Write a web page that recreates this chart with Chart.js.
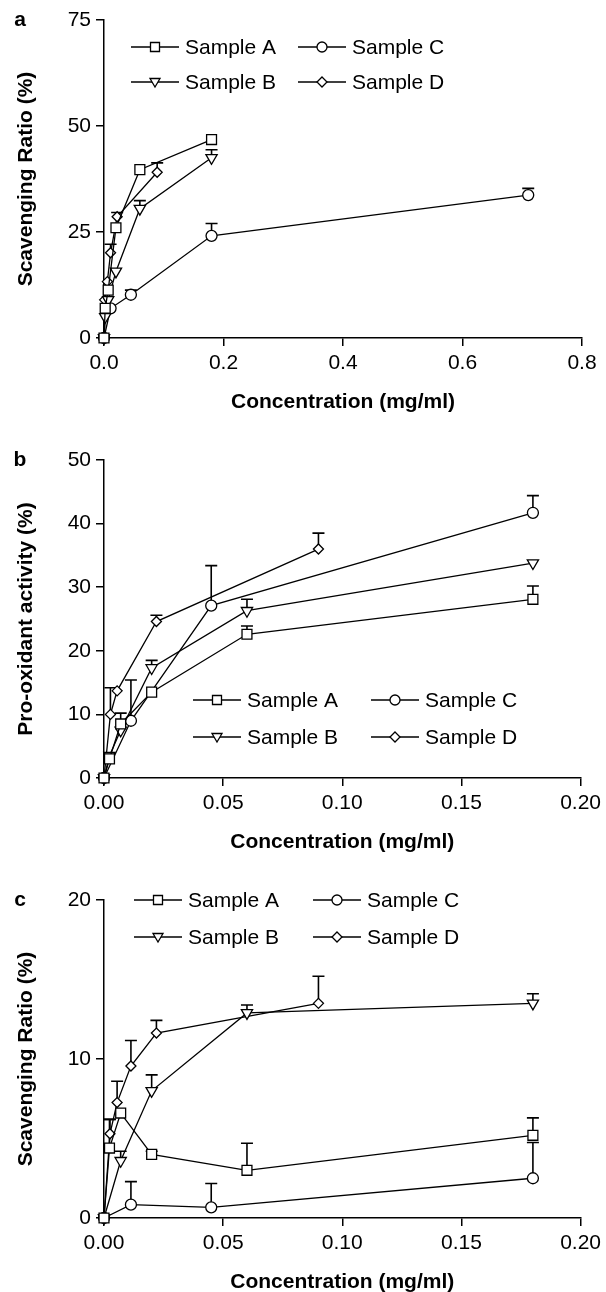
<!DOCTYPE html>
<html lang="en">
<head>
<meta charset="UTF-8">
<title>Scavenging and pro-oxidant activity</title>
<style>
  html, body { margin: 0; padding: 0; background: #fff; overflow: hidden; }
  .panel { position: absolute; left: 0; width: 606px; height: 440px; }
</style>
</head>
<body>
<div class="panel" style="top:0px"><canvas id="ca"></canvas></div>
<div class="panel" style="top:440px"><canvas id="cb"></canvas></div>
<div class="panel" style="top:880px"><canvas id="cc"></canvas></div>

<script src="https://cdn.jsdelivr.net/npm/chart.js"></script>
<script>
// ---- data (concentration mg/ml, value %, upper error) ----
const sampleNames = ['Sample A', 'Sample B', 'Sample C', 'Sample D'];

// panel a: scavenging ratio
const aConcA = [0, 0.002, 0.007, 0.02, 0.06, 0.18];
const aValA  = [0, 7.0, 11.3, 26.0, 39.7, 46.8];
const aErrA  = [0, 0, 0, 0, 0, 0];
const aConcB = [0, 0.002, 0.007, 0.02, 0.06, 0.18];
const aValB  = [0, 5.0, 9.0, 15.7, 30.5, 42.5];
const aErrB  = [0, 0, 0, 0, 1.9, 1.9];
const aConcC = [0, 0.011, 0.045, 0.18, 0.71];
const aValC  = [0, 7.0, 10.2, 24.1, 33.7];
const aErrC  = [0, 0, 1.1, 2.9, 1.6];
const aConcD = [0, 0.001, 0.0056, 0.011, 0.022, 0.089];
const aValD  = [0, 9.0, 13.3, 20.1, 28.6, 39.1];
const aErrD  = [0, 0, 0, 2.0, 1.0, 2.2];

// panel b: pro-oxidant activity
const bConcA = [0, 0.0023, 0.007, 0.02, 0.06, 0.18];
const bValA  = [0, 3.0, 8.5, 13.5, 22.6, 28.1];
const bErrA  = [0, 0, 1.7, 0, 1.3, 2.1];
const bConcB = [0, 0.0023, 0.007, 0.02, 0.06, 0.18];
const bValB  = [0, 3.5, 7.5, 17.3, 26.3, 33.8];
const bErrB  = [0, 0, 0, 1.2, 1.8, 0];
const bConcC = [0, 0.0113, 0.045, 0.18];
const bValC  = [0, 9.0, 27.1, 41.7];
const bErrC  = [0, 6.4, 6.3, 2.7];
const bConcD = [0, 0.0027, 0.0055, 0.022, 0.09];
const bValD  = [0, 10.0, 13.7, 24.6, 36.0];
const bErrD  = [0, 4.2, 0, 1.0, 2.5];

// panel c: scavenging ratio
const cConcA = [0, 0.0023, 0.007, 0.02, 0.06, 0.18];
const cValA  = [0, 4.4, 6.6, 4.0, 3.0, 5.2];
const cErrA  = [0, 1.8, 0, 0.2, 1.7, 1.1];
const cConcB = [0, 0.007, 0.02, 0.06, 0.18];
const cValB  = [0, 3.6, 8.0, 12.9, 13.5];
const cErrB  = [0, 0.6, 1.0, 0.5, 0.6];
const cConcC = [0, 0.0113, 0.045, 0.18];
const cValC  = [0, 0.84, 0.67, 2.5];
const cErrC  = [0, 1.45, 1.5, 2.25];
const cConcD = [0, 0.0025, 0.0055, 0.0113, 0.022, 0.09];
const cValD  = [0, 5.3, 7.26, 9.56, 11.63, 13.5];
const cErrD  = [0, 0.9, 1.34, 1.6, 0.8, 1.7];

// axis ticks
const xTicksA = [0, 0.2, 0.4, 0.6, 0.8];
const xTicksBC = [0, 0.05, 0.10, 0.15, 0.20];
const yTicksA = [0, 25, 50, 75];
const yTicksB = [0, 10, 20, 30, 40, 50];
const yTicksC = [0, 10, 20];

const FONT = '"Liberation Sans", Arial, Helvetica, sans-serif';
Chart.defaults.font.family = FONT;
Chart.defaults.font.size = 21;
Chart.defaults.color = '#000';

// marker look per sample
const markers = [
  { pointStyle: 'rect', radius: 7, rotation: 0 },
  { pointStyle: 'triangle', radius: 6.5, rotation: 180 },
  { pointStyle: 'circle', radius: 5.5, rotation: 0 },
  { pointStyle: 'rectRot', radius: 5, rotation: 0 }
];

function pts(xs, ys) {
  return xs.map((x, i) => ({ x: x, y: ys[i] }));
}

// error bars (upper only, with cap) using the chart's scales
const errorBars = {
  id: 'errorBars',
  beforeDatasetsDraw(chart) {
    const ctx = chart.ctx, ys = chart.scales.y;
    ctx.save();
    ctx.strokeStyle = '#000';
    ctx.lineWidth = 1.6;
    chart.data.datasets.forEach((ds, i) => {
      const meta = chart.getDatasetMeta(i);
      ds.err.forEach((e, j) => {
        if (!e) return;
        const p = meta.data[j];
        const top = ys.getPixelForValue(ds.data[j].y + e);
        ctx.beginPath();
        ctx.moveTo(p.x, p.y);
        ctx.lineTo(p.x, top);
        ctx.moveTo(p.x - 6, top);
        ctx.lineTo(p.x + 6, top);
        ctx.stroke();
      });
    });
    ctx.restore();
  }
};

function legendMarker(ctx, k, x, y) {
  ctx.beginPath();
  if (k === 0) {
    ctx.rect(x - 4.5, y - 4.5, 9, 9);
  } else if (k === 1) {
    ctx.moveTo(x - 5, y - 3.5); ctx.lineTo(x + 5, y - 3.5); ctx.lineTo(x, y + 5); ctx.closePath();
  } else if (k === 2) {
    ctx.arc(x, y, 5, 0, Math.PI * 2);
  } else {
    ctx.moveTo(x, y - 5); ctx.lineTo(x + 5, y); ctx.lineTo(x, y + 5); ctx.lineTo(x - 5, y); ctx.closePath();
  }
  ctx.fillStyle = '#fff';
  ctx.fill();
  ctx.stroke();
}

// two-column legend + panel letter
const panelDeco = {
  id: 'panelDeco',
  afterDraw(chart, args, opts) {
    const ctx = chart.ctx;
    ctx.save();
    ctx.fillStyle = '#000';
    ctx.font = 'bold 21px ' + FONT;
    ctx.textAlign = 'center';
    ctx.textBaseline = 'middle';
    ctx.fillText(opts.letter, 20, 20);

    ctx.font = '21px ' + FONT;
    ctx.textAlign = 'left';
    ctx.strokeStyle = '#000';
    ctx.lineWidth = 1.3;
    chart.data.datasets.forEach((ds, i) => {
      const x0 = opts.cols[Math.floor(i / 2)];
      const y0 = opts.rows[i % 2];
      ctx.beginPath();
      ctx.moveTo(x0, y0);
      ctx.lineTo(x0 + 48, y0);
      ctx.stroke();
      legendMarker(ctx, i, x0 + 24, y0);
      ctx.fillStyle = '#000';
      ctx.fillText(ds.label, x0 + 54, y0 + 1);
    });
    ctx.restore();
  }
};

function makePanel(id, letter, yTitle, series, xTicks, yTicks, xDec, legendCols, legendRows) {
  const datasets = series.map((s, i) => ({
    label: sampleNames[i],
    data: pts(s[0], s[1]),
    err: s[2],
    showLine: true,
    borderColor: '#000',
    borderWidth: 1.3,
    backgroundColor: '#fff',
    pointBackgroundColor: '#fff',
    pointBorderColor: '#000',
    pointBorderWidth: 1.3,
    pointStyle: markers[i].pointStyle,
    pointRadius: markers[i].radius,
    pointRotation: markers[i].rotation,
    tension: 0,
    clip: false
  }));

  const axisCommon = {
    grid: { display: true, drawOnChartArea: false, drawTicks: true, tickLength: 8, color: '#000', lineWidth: 1.5 },
    border: { display: true, color: '#000', width: 1.5 }
  };

  new Chart(document.getElementById(id), {
    type: 'scatter',
    data: { datasets: datasets },
    options: {
      responsive: true,
      maintainAspectRatio: false,
      animation: false,
      layout: { padding: { top: 20, right: 24, left: 0, bottom: 0 } },
      plugins: {
        legend: { display: false },
        tooltip: { enabled: false },
        panelDeco: { letter: letter, cols: legendCols, rows: legendRows }
      },
      scales: {
        x: Object.assign({}, axisCommon, {
          type: 'linear',
          min: xTicks[0],
          max: xTicks[xTicks.length - 1],
          afterBuildTicks: s => { s.ticks = xTicks.map(v => ({ value: v })); },
          afterFit: s => { s.height = 102; },
          ticks: { padding: 5, callback: v => Number(v).toFixed(xDec), maxRotation: 0, autoSkip: false },
          title: { display: true, text: 'Concentration (mg/ml)', font: { weight: 'bold', size: 21 }, padding: { top: 0, bottom: 25 } }
        }),
        y: Object.assign({}, axisCommon, {
          type: 'linear',
          min: yTicks[0],
          max: yTicks[yTicks.length - 1],
          afterBuildTicks: s => { s.ticks = yTicks.map(v => ({ value: v })); },
          afterFit: s => { s.width = 104; },
          ticks: { padding: 5, autoSkip: false },
          title: { display: true, text: yTitle, font: { weight: 'bold', size: 21 }, padding: { top: 14, bottom: 0 } }
        })
      }
    },
    plugins: [errorBars, panelDeco]
  });
}

makePanel('ca', 'a', 'Scavenging Ratio (%)',
  [[aConcA, aValA, aErrA], [aConcB, aValB, aErrB], [aConcC, aValC, aErrC], [aConcD, aValD, aErrD]],
  xTicksA, yTicksA, 1, [131, 298], [47, 82]);

makePanel('cb', 'b', 'Pro-oxidant activity (%)',
  [[bConcA, bValA, bErrA], [bConcB, bValB, bErrB], [bConcC, bValC, bErrC], [bConcD, bValD, bErrD]],
  xTicksBC, yTicksB, 2, [193, 371], [260, 297]);

makePanel('cc', 'c', 'Scavenging Ratio (%)',
  [[cConcA, cValA, cErrA], [cConcB, cValB, cErrB], [cConcC, cValC, cErrC], [cConcD, cValD, cErrD]],
  xTicksBC, yTicksC, 2, [134, 313], [20, 57]);
</script>
</body>
</html>
